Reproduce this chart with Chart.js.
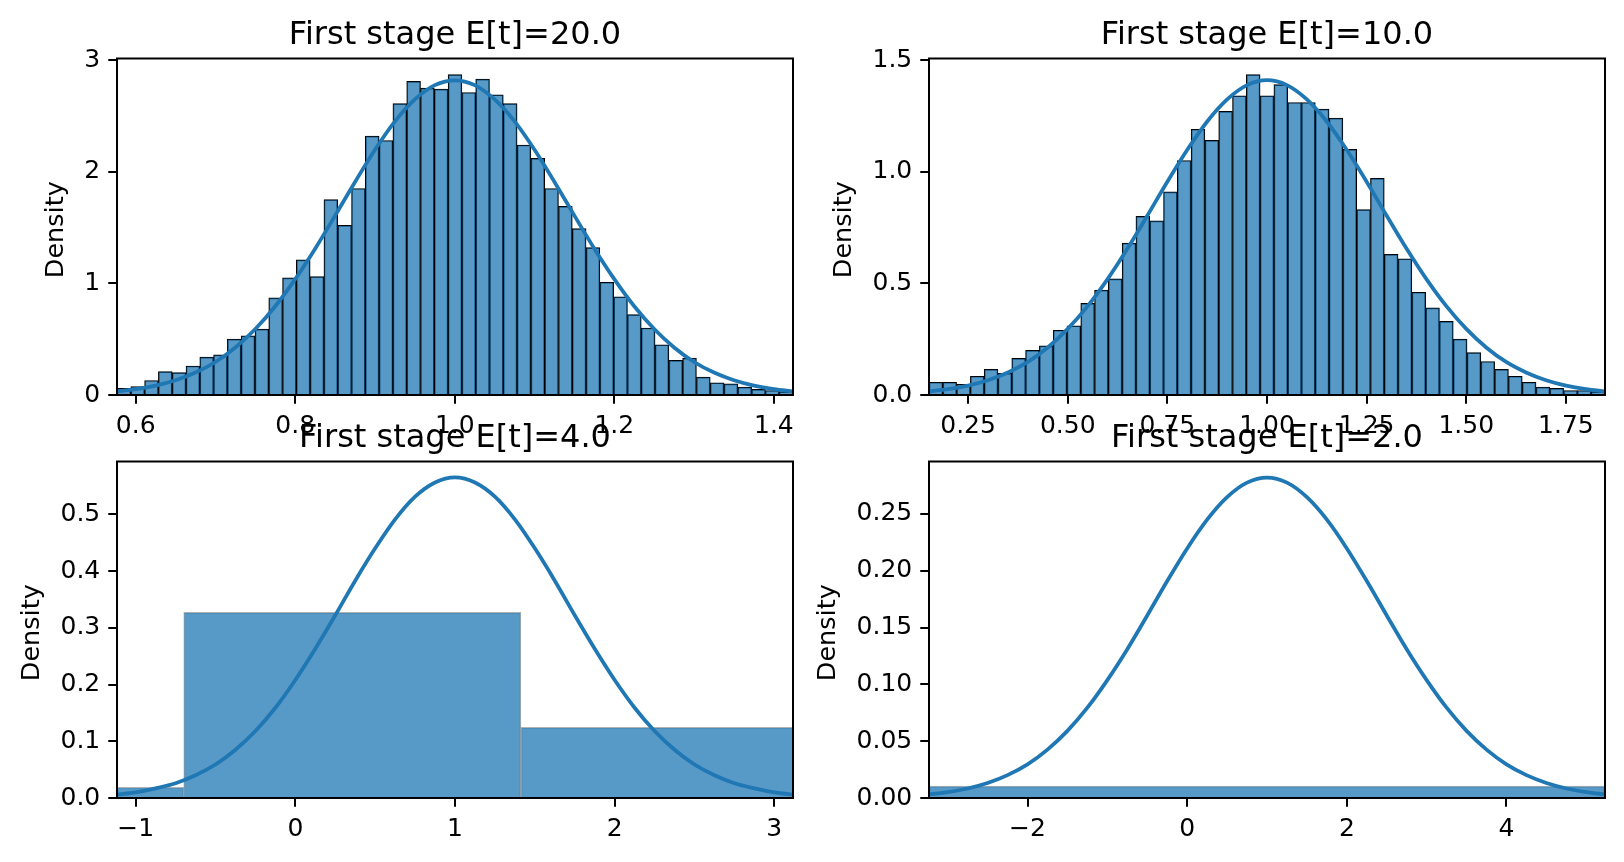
<!DOCTYPE html>
<html>
<head>
<meta charset="utf-8">
<script src="https://cdn.jsdelivr.net/npm/chart.js@4.4.1/dist/chart.umd.min.js"></script>
<style>
  html, body { margin: 0; padding: 0; background: #fff; overflow: hidden; }
  #fig { position: relative; width: 1624px; height: 862px; background: #fff; }
  .ax { position: absolute; width: 811px; height: 455px; }
</style>
</head>
<body>
<div id="fig">
  <div class="ax" style="left:0px;top:0px"><canvas id="c20"></canvas></div>
  <div class="ax" style="left:812px;top:0px"><canvas id="c10"></canvas></div>
  <div class="ax" style="left:0px;top:403.2px"><canvas id="c4"></canvas></div>
  <div class="ax" style="left:812px;top:403.2px"><canvas id="c2"></canvas></div>
</div>
<script>
// ---- E[t]=20.0 ----
const title20 = 'First stage E[t]=20.0'
const xlim20 = [0.5766, 1.424]
const ylim20 = [0, 3.015]
const binStart20 = 0.5766
const binWidth20 = 0.017294
const hist20 = [0.06, 0.075, 0.13, 0.21, 0.20, 0.26, 0.34, 0.36, 0.50, 0.53,
  0.59, 0.87, 1.05, 1.21, 1.06, 1.75, 1.52, 1.85, 2.32, 2.28,
  2.61, 2.81, 2.75, 2.74, 2.87, 2.71, 2.83, 2.69, 2.61, 2.24,
  2.12, 1.85, 1.69, 1.49, 1.32, 1.01, 0.88, 0.72, 0.60, 0.45,
  0.31, 0.33, 0.16, 0.11, 0.10, 0.07, 0.05, 0.04, 0.03]
const kdeX20 = [0.577, 0.600, 0.625, 0.650, 0.675, 0.700, 0.725, 0.750, 0.775, 0.800, 0.825, 0.850,
  0.875, 0.900, 0.925, 0.950, 0.975, 1.000, 1.025, 1.050, 1.075, 1.100, 1.125, 1.150, 1.175,
  1.200, 1.225, 1.250, 1.275, 1.300, 1.325, 1.350, 1.375, 1.400, 1.424]
const kdeY20 = [0.032, 0.052, 0.084, 0.132, 0.201, 0.296, 0.426, 0.591, 0.795, 1.038, 1.311, 1.607,
  1.909, 2.197, 2.451, 2.648, 2.776, 2.820, 2.776, 2.648, 2.451, 2.197, 1.909, 1.607, 1.311,
  1.038, 0.795, 0.591, 0.426, 0.296, 0.201, 0.132, 0.084, 0.052, 0.032]
const xTicks20 = [0.6, 0.8, 1.0, 1.2, 1.4]
const xLabels20 = ['0.6', '0.8', '1.0', '1.2', '1.4']
const yTicks20 = [0, 1, 2, 3]
const yLabels20 = ['0', '1', '2', '3']

// ---- E[t]=10.0 ----
const title10 = 'First stage E[t]=10.0'
const xlim10 = [0.152, 1.848]
const ylim10 = [0, 1.507]
const binStart10 = 0.152
const binWidth10 = 0.034612
const hist10 = [0.057, 0.057, 0.048, 0.084, 0.115, 0.097, 0.164, 0.20, 0.22, 0.29,
  0.31, 0.41, 0.47, 0.52, 0.68, 0.80, 0.78, 0.91, 1.05, 1.19,
  1.14, 1.27, 1.34, 1.435, 1.34, 1.39, 1.31, 1.31, 1.28, 1.24,
  1.10, 0.83, 0.97, 0.63, 0.61, 0.46, 0.39, 0.33, 0.25, 0.19,
  0.15, 0.115, 0.084, 0.057, 0.035, 0.03, 0.02, 0.02, 0.015]
const kdeX10 = [0.152, 0.20, 0.25, 0.30, 0.35, 0.40, 0.45, 0.50, 0.55, 0.60, 0.65, 0.70,
  0.75, 0.80, 0.85, 0.90, 0.95, 1.00, 1.05, 1.10, 1.15, 1.20, 1.25, 1.30, 1.35,
  1.40, 1.45, 1.50, 1.55, 1.60, 1.65, 1.70, 1.75, 1.80, 1.848]
const kdeY10 = [0.016, 0.026, 0.042, 0.066, 0.101, 0.148, 0.213, 0.296, 0.398, 0.519, 0.656, 0.804,
  0.955, 1.098, 1.225, 1.324, 1.388, 1.410, 1.388, 1.324, 1.225, 1.098, 0.955, 0.804, 0.656,
  0.519, 0.398, 0.296, 0.213, 0.148, 0.101, 0.066, 0.042, 0.026, 0.016]
const xTicks10 = [0.25, 0.5, 0.75, 1.0, 1.25, 1.5, 1.75]
const xLabels10 = ['0.25', '0.50', '0.75', '1.00', '1.25', '1.50', '1.75']
const yTicks10 = [0, 0.5, 1.0, 1.5]
const yLabels10 = ['0.0', '0.5', '1.0', '1.5']

// ---- E[t]=4.0 ----
const title4 = 'First stage E[t]=4.0'
const xlim4 = [-1.117, 3.117]
const ylim4 = [0, 0.593]
const binCenters4 = [-1.755, 0.357, 2.469]
const hist4 = [0.019, 0.327, 0.1245]
const kdeX4 = [-1.117, -1.0, -0.875, -0.75, -0.625, -0.5, -0.375, -0.25, -0.125, 0.0, 0.125, 0.25,
  0.375, 0.5, 0.625, 0.75, 0.875, 1.0, 1.125, 1.25, 1.375, 1.5, 1.625, 1.75, 1.875,
  2.0, 2.125, 2.25, 2.375, 2.5, 2.625, 2.75, 2.875, 3.0, 3.117]
const kdeY4 = [0.006, 0.010, 0.017, 0.026, 0.040, 0.059, 0.085, 0.118, 0.159, 0.208, 0.263, 0.322,
  0.383, 0.440, 0.491, 0.531, 0.556, 0.565, 0.556, 0.531, 0.491, 0.440, 0.383, 0.322, 0.263,
  0.208, 0.159, 0.118, 0.085, 0.059, 0.040, 0.026, 0.017, 0.010, 0.006]
const xTicks4 = [-1, 0, 1, 2, 3]
const xLabels4 = ['\u22121', '0', '1', '2', '3']
const yTicks4 = [0, 0.1, 0.2, 0.3, 0.4, 0.5]
const yLabels4 = ['0.0', '0.1', '0.2', '0.3', '0.4', '0.5']

// ---- E[t]=2.0 ----
const title2 = 'First stage E[t]=2.0'
const xlim2 = [-3.234, 5.234]
const ylim2 = [0, 0.2962]
const binCenters2 = [1.0]
const hist2 = [0.0105]
const kdeX2 = [-3.234, -3.0, -2.75, -2.5, -2.25, -2.0, -1.75, -1.5, -1.25, -1.0, -0.75, -0.5,
  -0.25, 0.0, 0.25, 0.5, 0.75, 1.0, 1.25, 1.5, 1.75, 2.0, 2.25, 2.5, 2.75,
  3.0, 3.25, 3.5, 3.75, 4.0, 4.25, 4.5, 4.75, 5.0, 5.234]
const kdeY2 = [0.0031, 0.0052, 0.0084, 0.0132, 0.0201, 0.0296, 0.0426, 0.0591, 0.0795, 0.1038, 0.131, 0.1607,
  0.191, 0.2197, 0.245, 0.2648, 0.2776, 0.282, 0.2776, 0.2648, 0.245, 0.2197, 0.191, 0.1607, 0.131,
  0.1038, 0.0795, 0.0591, 0.0426, 0.0296, 0.0201, 0.0132, 0.0084, 0.0052, 0.0031]
const xTicks2 = [-2, 0, 2, 4]
const xLabels2 = ['\u22122', '0', '2', '4']
const yTicks2 = [0, 0.05, 0.10, 0.15, 0.20, 0.25]
const yLabels2 = ['0.00', '0.05', '0.10', '0.15', '0.20', '0.25']

const FONT = '"DejaVu Sans", sans-serif'
const BLUE = '#1f77b4'
const BAR_FILL = 'rgba(31,119,180,0.75)'

// frame, title and y label drawn like matplotlib
const decor = {
  id: 'decor',
  afterDatasetsDraw(chart, args, opts) {
    const ctx = chart.ctx
    const a = chart.chartArea
    ctx.save()
    ctx.strokeStyle = '#000'
    ctx.lineWidth = 2
    ctx.strokeRect(a.left, a.top, a.right - a.left, a.bottom - a.top)

    ctx.fillStyle = '#000'
    ctx.font = '32px ' + FONT
    ctx.textAlign = 'center'
    ctx.textBaseline = 'alphabetic'
    ctx.fillText(opts.title, (a.left + a.right) / 2, a.top - 15)

    ctx.font = '25px ' + FONT
    let w = 0
    opts.yLabels.forEach(s => { w = Math.max(w, ctx.measureText(s).width) })
    const x = a.left - 17.5 - w - 27
    ctx.font = '25.5px ' + FONT
    ctx.translate(x, (a.top + a.bottom) / 2 + 3)
    ctx.rotate(-Math.PI / 2)
    ctx.textBaseline = 'middle'
    ctx.fillText('Density', 0, 0)
    ctx.restore()
  }
}

function histChart(id, o) {
  let bars = o.heights.map((h, i) => ({ x: o.centers[i], y: h }))
  let kde = o.kdeX.map((x, i) => ({ x: x, y: o.kdeY[i] }))
  let tickStyle = { font: { family: FONT, size: 25 }, color: '#000', padding: 8, autoSkip: false, maxRotation: 0 }
  let gridStyle = { drawOnChartArea: false, drawTicks: true, tickLength: 8.75, color: '#000', lineWidth: 2, offset: false }

  return new Chart(document.getElementById(id), {
    type: 'bar',
    data: {
      datasets: [
        {
          type: 'line', data: kde, borderColor: BLUE, borderWidth: 3.75,
          pointRadius: 0, cubicInterpolationMode: 'monotone', fill: false, order: 0
        },
        {
          type: 'bar', data: bars, backgroundColor: BAR_FILL,
          borderColor: o.edge, borderWidth: o.edgeW,
          barThickness: 'flex', barPercentage: 1, categoryPercentage: 1, order: 1
        }
      ]
    },
    options: {
      responsive: true,
      maintainAspectRatio: false,
      animation: false,
      layout: { padding: { top: 58.5, right: 18, left: 0, bottom: 0 } },
      plugins: {
        legend: { display: false },
        tooltip: { enabled: false },
        decor: { title: o.title, yLabels: o.yLabels }
      },
      scales: {
        x: {
          type: 'linear', min: o.xlim[0], max: o.xlim[1], offset: false,
          afterBuildTicks: s => { s.ticks = o.xTicks.map(v => ({ value: v })) },
          afterFit: s => { s.height = 60; s.paddingLeft = 0; s.paddingRight = 0 },
          ticks: Object.assign({}, tickStyle, { callback: (v, i) => o.xLabels[i] }),
          grid: gridStyle,
          border: { display: false }
        },
        y: {
          type: 'linear', min: o.ylim[0], max: o.ylim[1],
          afterBuildTicks: s => { s.ticks = o.yTicks.map(v => ({ value: v })) },
          afterFit: s => { s.width = 117; s.paddingTop = 0; s.paddingBottom = 0 },
          ticks: Object.assign({}, tickStyle, { callback: (v, i) => o.yLabels[i] }),
          grid: gridStyle,
          border: { display: false }
        }
      }
    },
    plugins: [decor]
  })
}

function centersFrom(start, width, n) {
  let c = []
  for (let i = 0; i < n; i++) c.push(start + (i + 0.5) * width)
  return c
}

histChart('c20', {
  title: title20, xlim: xlim20, ylim: ylim20,
  centers: centersFrom(binStart20, binWidth20, hist20.length), heights: hist20,
  kdeX: kdeX20, kdeY: kdeY20, edge: '#000', edgeW: 1,
  xTicks: xTicks20, xLabels: xLabels20, yTicks: yTicks20, yLabels: yLabels20
})
histChart('c10', {
  title: title10, xlim: xlim10, ylim: ylim10,
  centers: centersFrom(binStart10, binWidth10, hist10.length), heights: hist10,
  kdeX: kdeX10, kdeY: kdeY10, edge: '#000', edgeW: 1,
  xTicks: xTicks10, xLabels: xLabels10, yTicks: yTicks10, yLabels: yLabels10
})
histChart('c4', {
  title: title4, xlim: xlim4, ylim: ylim4,
  centers: binCenters4, heights: hist4,
  kdeX: kdeX4, kdeY: kdeY4, edge: 'rgba(0,0,0,0.3)', edgeW: 1,
  xTicks: xTicks4, xLabels: xLabels4, yTicks: yTicks4, yLabels: yLabels4
})
histChart('c2', {
  title: title2, xlim: xlim2, ylim: ylim2,
  centers: binCenters2, heights: hist2,
  kdeX: kdeX2, kdeY: kdeY2, edge: 'rgba(0,0,0,0.3)', edgeW: 1,
  xTicks: xTicks2, xLabels: xLabels2, yTicks: yTicks2, yLabels: yLabels2
})
</script>
</body>
</html>
